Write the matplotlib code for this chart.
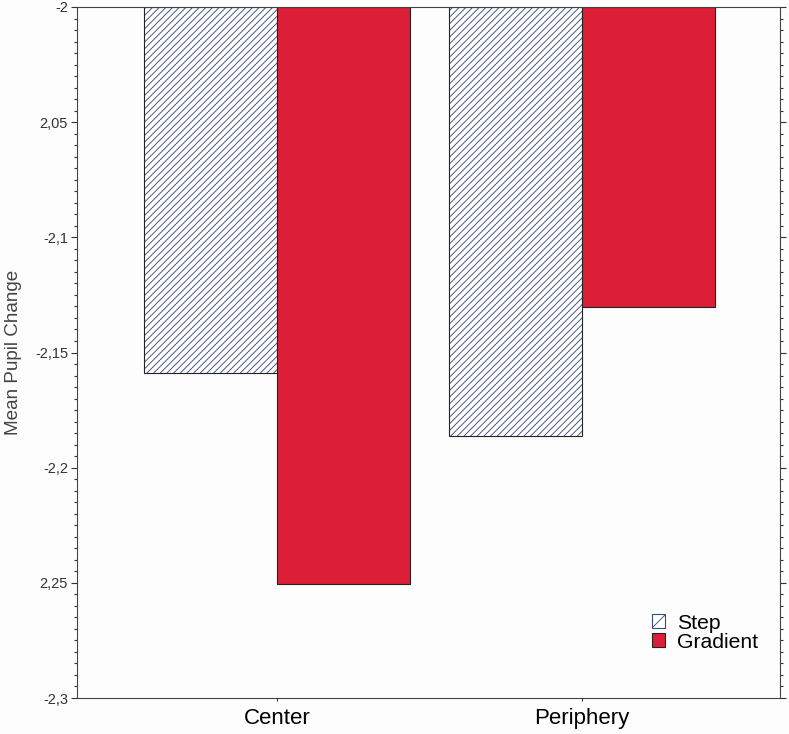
import numpy as np
import matplotlib.pyplot as plt
from matplotlib.patches import Patch
from matplotlib.ticker import MultipleLocator

plt.rcParams['font.family'] = ['Liberation Sans', 'DejaVu Sans']
plt.rcParams['hatch.linewidth'] = 0.8

categories = ['Center', 'Periphery']
step_vals = [-2.159, -2.1863]
gradient_vals = [-2.2505, -2.1302]
y_ticks = [-2.0, -2.05, -2.1, -2.15, -2.2, -2.25, -2.3]
y_tick_labels = ['-2', '2,05', '-2,1', '-2,15', '-2,2', '2,25', '-2,3']
base = -2.0

red = '#dc1f36'
hatch_col = '#3c4a7c'
edge = '#222222'
bg = '#fdfdfd'

fig = plt.figure(figsize=(789 / 80, 734 / 80), dpi=80, facecolor=bg)
ax = fig.add_axes([77 / 789, 1 - 698 / 734, (780 - 77) / 789, (698 - 7) / 734])
ax.set_facecolor(bg)

x = np.arange(len(categories))
w = 0.436
step_h = np.array(step_vals) - base
grad_h = np.array(gradient_vals) - base

# hatch fill and outline drawn separately so hatch colour differs from edge
ax.bar(x - w / 2, step_h, w, bottom=base, color='white', edgecolor=hatch_col,
       hatch='////', linewidth=0)
ax.bar(x - w / 2, step_h, w, bottom=base, fill=False, edgecolor=edge, linewidth=1)
ax.bar(x + w / 2, grad_h, w, bottom=base, color=red, edgecolor=edge, linewidth=1)

ax.set_xlim(-0.656, 1.649)
ax.set_ylim(-2.3, -2.0)
ax.set_yticks(y_ticks)
ax.set_yticklabels(y_tick_labels, fontsize=13, color='#333333')
ax.yaxis.set_minor_locator(MultipleLocator(0.005))
ax.set_xticks(x)
ax.set_xticklabels(categories, fontsize=20, color='black')

ax.tick_params(axis='y', which='major', length=5, width=1, color='#333333',
               right=True, left=True, direction='out', pad=3)
ax.tick_params(axis='y', which='minor', length=3, width=1, color='#333333',
               right=True, left=True, direction='out')
ax.tick_params(axis='x', which='major', length=3, width=1, color='#333333', pad=6)

for s in ax.spines.values():
    s.set_color('#444444')
    s.set_linewidth(1)

ax.set_ylabel('Mean Pupil Change', fontsize=17, color='#444444', labelpad=12)

handles = [Patch(facecolor='white', edgecolor=hatch_col, hatch='//', linewidth=1),
           Patch(facecolor=red, edgecolor=edge, linewidth=1)]
leg = fig.legend(handles, ['Step', 'Gradient'], loc='upper left',
                 bbox_to_anchor=(641 / 789, 1 - 603 / 734), frameon=False,
                 fontsize=19, handlelength=0.65, handleheight=0.65,
                 handletextpad=0.55, labelspacing=0.0, borderpad=0)

fig.savefig('out.png', dpi=80, facecolor=bg)
